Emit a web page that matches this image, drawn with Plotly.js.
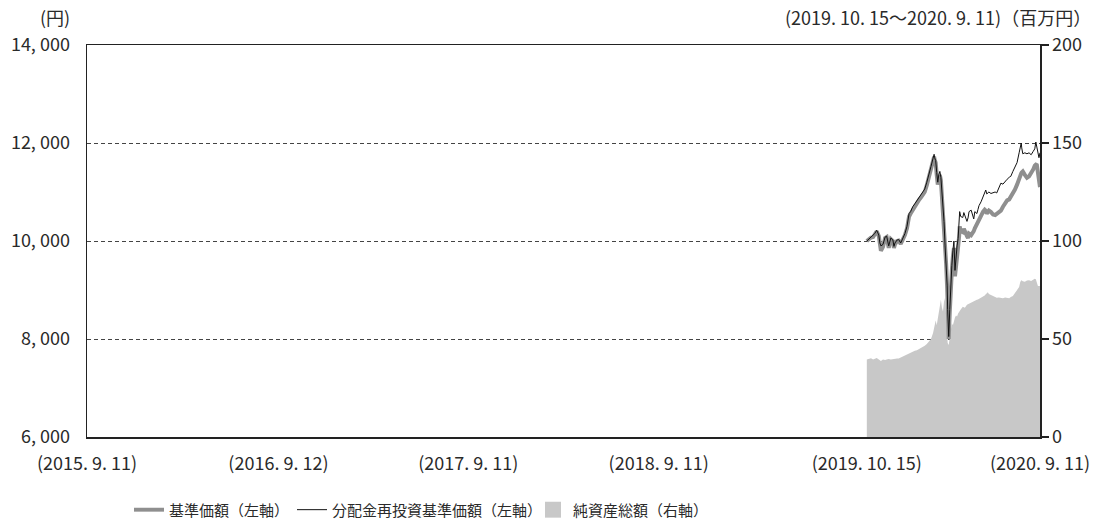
<!DOCTYPE html>
<html>
<head>
<meta charset="utf-8">
<script src="https://cdn.plot.ly/plotly-3.0.1.min.js"></script>
<style>html,body{margin:0;padding:0;background:#fff;}#chart{width:1095px;height:520px;}</style>
</head>
<body>
<div id="chart"></div>
<script>
// ---- data ----
const dates = [
"2019-10-15","2019-10-19","2019-10-23","2019-10-27","2019-10-30","2019-11-03","2019-11-07","2019-11-09","2019-11-11","2019-11-15",
"2019-11-19","2019-11-22","2019-11-26","2019-11-30","2019-12-04","2019-12-06","2019-12-08","2019-12-12","2019-12-15","2019-12-19",
"2019-12-23","2019-12-27","2019-12-31","2020-01-04","2020-01-07","2020-01-11","2020-01-15","2020-01-19","2020-01-23","2020-01-27",
"2020-01-30","2020-02-03","2020-02-07","2020-02-11","2020-02-15","2020-02-19","2020-02-21","2020-02-22","2020-02-24","2020-02-26",
"2020-02-28","2020-03-01","2020-03-03","2020-03-05","2020-03-07","2020-03-09","2020-03-11","2020-03-13","2020-03-15","2020-03-17",
"2020-03-18","2020-03-20","2020-03-22","2020-03-24","2020-03-26","2020-03-28","2020-03-30","2020-04-01","2020-04-03","2020-04-05",
"2020-04-07","2020-04-09","2020-04-10","2020-04-12","2020-04-16","2020-04-18","2020-04-20","2020-04-24","2020-04-26","2020-04-28",
"2020-05-02","2020-05-05","2020-05-07","2020-05-09","2020-05-13","2020-05-15","2020-05-17","2020-05-21","2020-05-25","2020-05-28",
"2020-05-30","2020-06-01","2020-06-03","2020-06-05","2020-06-09","2020-06-13","2020-06-17","2020-06-20","2020-06-24","2020-06-28",
"2020-07-02","2020-07-06","2020-07-10","2020-07-14","2020-07-17","2020-07-21","2020-07-25","2020-07-29","2020-08-02","2020-08-04",
"2020-08-06","2020-08-07","2020-08-09","2020-08-13","2020-08-17","2020-08-21","2020-08-25","2020-08-29","2020-09-01","2020-09-03",
"2020-09-05","2020-09-07","2020-09-09","2020-09-11"
];
// 基準価額 (円)
const basePrice = [
10000,10040,10070,10080,10130,10200,10100,9930,9800,9880,
10060,10080,9860,10040,10000,9860,9930,10000,10010,9940,
10030,10120,10260,10500,10560,10640,10700,10760,10840,10890,
10940,11000,11140,11330,11460,11640,11720,11660,11600,11350,
11150,11280,11350,11240,10940,10680,10330,9840,9540,9040,
8550,8000,8540,9120,9400,9680,9860,9280,9560,9750,
9880,10100,10300,10200,10180,10250,10180,10100,10060,10150,
10120,10160,10200,10260,10350,10400,10420,10500,10600,10640,
10620,10560,10590,10620,10590,10540,10530,10560,10600,10620,
10700,10780,10830,10850,10900,10950,11050,11150,11300,11340,
11380,11400,11420,11350,11290,11320,11380,11460,11540,11560,
11550,11420,11250,11100
];
// 分配金再投資基準価額 (円)
const reinvested = [
10000,10040,10080,10100,10150,10220,10120,9960,9900,9930,
10080,10100,9900,10060,10020,9890,9960,10020,10030,9960,
10060,10150,10300,10560,10600,10700,10760,10820,10900,10950,
10990,11060,11200,11390,11520,11690,11770,11700,11640,11400,
11200,11350,11420,11300,11000,10750,10400,9900,9600,9100,
8600,8050,8600,9200,9500,9800,10000,9400,9700,9900,
10050,10300,10600,10500,10480,10580,10500,10400,10470,10600,
10630,10480,10450,10600,10560,10640,10720,10800,10900,10960,
11040,10960,10990,11000,10970,10990,11000,10980,11100,11180,
11160,11220,11260,11300,11320,11420,11520,11600,11800,11900,
12000,11900,11780,11800,11780,11800,11760,11830,11880,12020,
11900,11760,11700,11800
];
// 純資産総額 (百万円)
const netAssets = [
39.5,40,40.2,39.6,39.8,40.3,39.5,39.2,38.8,39.5,
39.3,39.6,39.8,39.6,39.9,39.8,40,40.1,40,40.5,
41,41.6,42.2,42.8,43.2,43.6,44,44.2,44.8,45.2,
45.6,46.5,47.5,48.5,50,53,56,57,59.5,57,
60,64,66,70,66,64,69,71,62,55,
48,47,50,55,58,57,60,61,62,61.5,
63,64,64.5,65,66.5,66.2,66,67.5,67.8,68,
68.5,69,69.2,69.5,70,70.2,70.5,70.8,71.5,72.2,
72.8,73.2,73.8,73,72.5,71.8,71.5,71,71.2,71,
70.8,71.2,71,70.8,71.4,72,73.5,75,76.5,79,
80,79.8,79.5,79.2,79.8,80,79.6,80.4,80.8,80.5,
79,77,77,77
];
const xTickVals = ["2015-09-11","2016-09-12","2017-09-11","2018-09-11","2019-10-15","2020-09-11"];
const xTickText = ["(2015. 9. 11)","(2016. 9. 12)","(2017. 9. 11)","(2018. 9. 11)","(2019. 10. 15)","(2020. 9. 11)"];
const leftTickVals = [6000,8000,10000,12000,14000];
const leftTickText = ["6, 000","8, 000","10, 000","12, 000","14, 000"];
const rightTickVals = [0,50,100,150,200];
const rightTickText = ["0","50","100","150","200"];
const seriesNames = ["基準価額（左軸）","分配金再投資基準価額（左軸）","純資産総額（右軸）"];

// ---- chart ----
const FONT = "'Noto Sans CJK JP', 'Noto Sans', sans-serif";
const axisLine = "#222";
const textColor = "#2a2a2a";

const traces = [
  {x: dates, y: netAssets, type: "scatter", mode: "lines", fill: "tozeroy",
   fillcolor: "#c8c8c8", line: {width: 0, color: "#c8c8c8"}, yaxis: "y", showlegend: false, hoverinfo: "skip"},
  {x: [null], y: [null], type: "scatter", mode: "markers", name: seriesNames[2], yaxis: "y",
   marker: {symbol: "square", size: 20, color: "#c8c8c8"}, legend: "legend3"},
  {x: dates, y: basePrice, type: "scatter", mode: "lines", name: seriesNames[0], yaxis: "y2",
   line: {color: "#8f8f8f", width: 4}, legend: "legend"},
  {x: dates, y: reinvested, type: "scatter", mode: "lines", name: seriesNames[1], yaxis: "y2",
   line: {color: "#111", width: 1}, legend: "legend2"}
];

const legendBase = {orientation: "h", yanchor: "middle", y: -0.186, xanchor: "left",
  font: {family: FONT, size: 15, color: textColor}, bgcolor: "rgba(0,0,0,0)", borderwidth: 0};

const layout = {
  width: 1095, height: 520,
  margin: {l: 87, r: 55, t: 45, b: 83, pad: 0, autoexpand: false},
  paper_bgcolor: "#fff", plot_bgcolor: "#fff",
  font: {family: FONT, size: 18, color: textColor},
  xaxis: {
    type: "date", range: ["2015-09-11", "2020-09-11"],
    tickmode: "array", tickvals: xTickVals, ticktext: xTickText,
    ticks: "outside", ticklen: 10, tickcolor: "rgba(0,0,0,0)",
    showgrid: false, zeroline: false,
    showline: true, mirror: true, linecolor: axisLine, linewidth: 1.5,
    tickfont: {family: FONT, size: 18, color: textColor}
  },
  yaxis: {
    side: "right", range: [0, 200],
    tickmode: "array", tickvals: rightTickVals, ticktext: rightTickText,
    ticks: "outside", ticklen: 7, tickcolor: axisLine, tickwidth: 1.5,
    showgrid: true, gridcolor: "#444", gridwidth: 1, griddash: "4px,3px",
    zeroline: false, showline: true, linecolor: axisLine, linewidth: 1.5,
    tickfont: {family: FONT, size: 18, color: textColor}
  },
  yaxis2: {
    side: "left", overlaying: "y", range: [6000, 14000],
    tickmode: "array", tickvals: leftTickVals, ticktext: leftTickText,
    ticks: "outside", ticklen: 12, tickcolor: "rgba(0,0,0,0)",
    showgrid: false, zeroline: false,
    showline: true, linecolor: axisLine, linewidth: 1.5,
    tickfont: {family: FONT, size: 18, color: textColor}
  },
  legend: Object.assign({}, legendBase, {x: (129 - 87) / 953}),
  legend2: Object.assign({}, legendBase, {x: (292 - 87) / 953}),
  legend3: Object.assign({}, legendBase, {x: (533 - 87) / 953}),
  showlegend: true,
  annotations: [
    {text: "(円)", xref: "paper", yref: "paper", x: -0.016, y: (437 - 17) / 392,
     xanchor: "right", yanchor: "middle", showarrow: false, font: {family: FONT, size: 18, color: textColor}},
    {text: "(2019. 10. 15～2020. 9. 11)（百万円）", xref: "paper", yref: "paper", x: (1093 - 87) / 953, y: (437 - 17) / 392,
     xanchor: "right", yanchor: "middle", showarrow: false, font: {family: FONT, size: 18, color: textColor}}
  ]
};

Plotly.newPlot("chart", traces, layout, {displayModeBar: false, staticPlot: true});
</script>
</body>
</html>
